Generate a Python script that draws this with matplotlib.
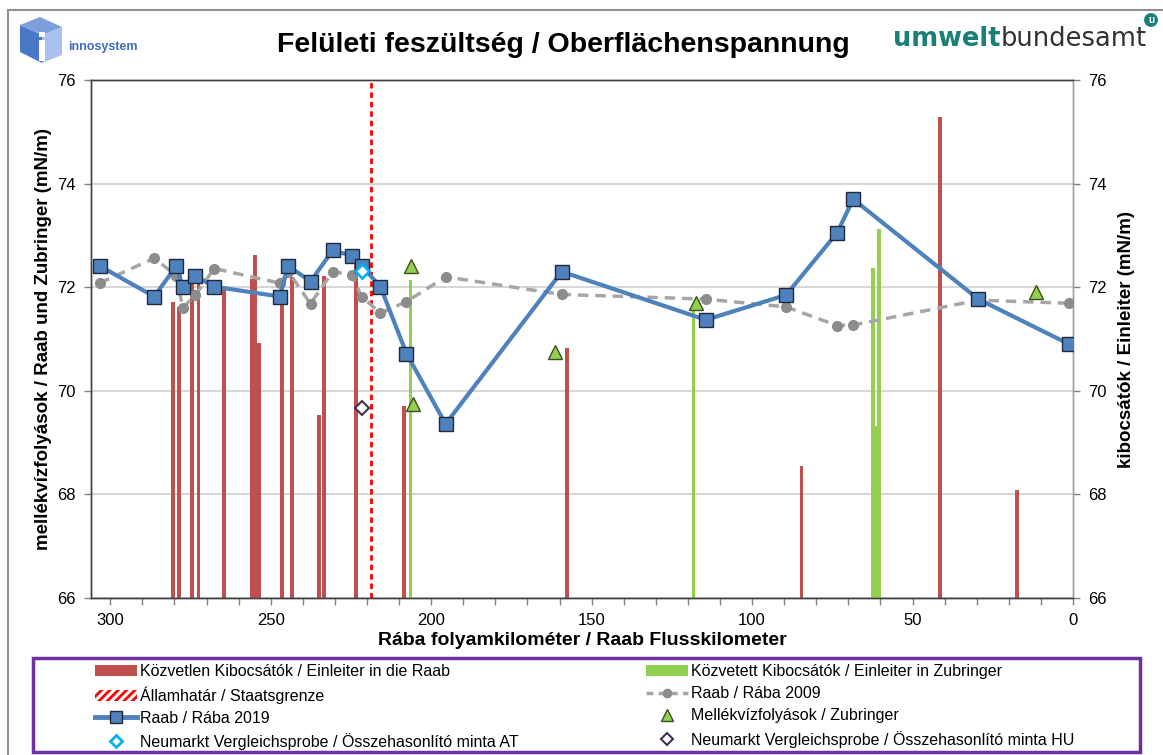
import matplotlib
matplotlib.use('Agg')
import matplotlib.pyplot as plt
from matplotlib.patches import Patch, Rectangle, Polygon
from matplotlib.lines import Line2D
from matplotlib.ticker import MultipleLocator

plt.rcParams['font.family'] = ['Liberation Sans', 'DejaVu Sans']
plt.rcParams['hatch.linewidth'] = 2.0

# --- data ---
site_km = [303.3, 286.3, 279.4, 277.4, 273.6, 267.6, 247.2, 244.5, 237.6, 230.7, 224.8,
           221.7, 215.8, 207.7, 195.5, 159.3, 114.4, 89.4, 73.5, 68.5, 29.5, 1.2]
raab_2019 = [72.41, 71.82, 72.41, 72.01, 72.22, 72.01, 71.82, 72.41, 72.11, 72.71, 72.61,
             72.41, 72.01, 70.72, 69.36, 72.30, 71.37, 71.85, 73.05, 73.70, 71.77, 70.90]
raab_2009 = [72.08, 72.56, 72.22, 71.60, 71.84, 72.36, 72.08, 72.30, 71.68, 72.30, 72.24,
             71.82, 71.50, 71.72, 72.20, 71.86, 71.77, 71.62, 71.26, 71.27, 71.75, 71.69]

direct_km = [280.5, 278.6, 274.6, 272.5, 264.5, 256.0, 255.0, 253.6, 246.6, 243.4, 234.9,
             233.5, 223.5, 208.5, 157.6, 84.6, 41.4, 17.4]
direct_val = [71.72, 71.62, 72.15, 72.15, 71.98, 72.15, 72.62, 70.92, 71.75, 72.20, 69.53,
              72.22, 72.50, 69.70, 70.83, 68.55, 75.28, 68.08]

indirect_km = [206.4, 118.3, 62.4, 61.5, 60.4]
indirect_val = [72.13, 71.54, 72.38, 69.32, 73.12]

trib_km = [206.4, 205.6, 161.4, 117.5, 11.4]
trib_val = [72.40, 69.75, 70.74, 71.70, 71.90]

at_km, at_val = [221.6], [72.31]
hu_km, hu_val = [221.6], [69.66]
border_km = 218.6

labels = ['Közvetlen Kibocsátók / Einleiter in die Raab',
          'Államhatár / Staatsgrenze',
          'Raab / Rába 2019',
          'Neumarkt Vergleichsprobe / Összehasonlító minta AT',
          'Közvetett Kibocsátók / Einleiter in Zubringer',
          'Raab / Rába 2009',
          'Mellékvízfolyások / Zubringer',
          'Neumarkt Vergleichsprobe / Összehasonlító minta HU']

RED = '#C0504D'
GREEN = '#92D050'
BLUE = '#4F81BD'
GREY = '#A6A6A6'
DOT = '#8C8C8C'

W, H = 1163, 755
fig = plt.figure(figsize=(W / 100, H / 100), dpi=100)

ax2 = fig.add_axes([91 / W, 1 - 598 / H, (1073 - 91) / W, (598 - 80) / H])
ax = ax2.twinx()
ax2.yaxis.tick_right()
ax2.yaxis.set_label_position('right')
ax.yaxis.tick_left()
ax.yaxis.set_label_position('left')

# bars on the discharge axis (right)
ax2.bar(direct_km, [v - 66 for v in direct_val], bottom=66, width=1.2, color=RED, zorder=2)
ax2.bar(indirect_km, [v - 66 for v in indirect_val], bottom=66, width=1.1, color=GREEN, zorder=2)
ax2.set_ylim(66, 76)
ax2.set_xlim(306, 0)
ax2.yaxis.set_major_locator(MultipleLocator(2))
ax2.grid(axis='y', color='#D0D0D0', lw=1.2, zorder=0)
ax2.set_axisbelow(True)

ax.set_zorder(ax2.get_zorder() + 1)
ax.patch.set_visible(False)

ax.axvline(border_km, color='#FF0000', lw=2, dashes=(2.0, 1.4), zorder=3)
ax.plot(site_km, raab_2009, color=GREY, lw=2.5, dashes=(3, 2), marker='o', ms=7,
        mfc=DOT, mec=DOT, zorder=4)
ax.plot(site_km, raab_2019, color=BLUE, lw=3, marker='s', ms=10, mfc=BLUE,
        mec='#1F2A3C', mew=1.0, zorder=5)
ax.plot(trib_km, trib_val, ls='none', marker='^', ms=10, mfc=GREEN, mec='#3D4F1E',
        mew=1.0, zorder=6)
ax.plot(at_km, at_val, ls='none', marker='D', ms=7, mfc='white', mec='#00B0F0',
        mew=2, zorder=7)
ax.plot(hu_km, hu_val, ls='none', marker='D', ms=7, mfc='white', mec='#403152',
        mew=1.5, zorder=7)
ax.set_ylim(66, 76)
ax.set_xlim(306, 0)
ax.yaxis.set_major_locator(MultipleLocator(2))
ax2.xaxis.set_major_locator(MultipleLocator(50))
ax2.xaxis.set_minor_locator(MultipleLocator(10))

for a in (ax, ax2):
    a.tick_params(which='both', direction='out', length=5, width=1, color='#808080',
                  labelsize=12, pad=6)
    for s in a.spines.values():
        s.set_color('#404040')
        s.set_linewidth(1)
    a.spines['right'].set_color('#A0A0A0')

ax.set_ylabel('mellékvízfolyások / Raab und Zubringer (mN/m)', fontsize=13.5,
              fontweight='bold', labelpad=4)
ax2.set_ylabel('kibocsátók / Einleiter (mN/m)', fontsize=13.5, fontweight='bold',
               labelpad=8)
ax2.set_xlabel('Rába folyamkilométer / Raab Flusskilometer', fontsize=14,
               fontweight='bold', labelpad=3)

fig.text(563 / W, 1 - 45 / H, 'Felületi feszültség / Oberflächenspannung', fontsize=20.5,
         fontweight='bold', ha='center', va='center')

# legend (two blocks of four rows inside a purple frame)
h_left = [Patch(fc=RED, ec='none'),
          Patch(fc='white', ec='#FF0000', hatch='////', lw=0),
          Line2D([], [], color=BLUE, lw=3.5, marker='s', ms=8, mfc=BLUE, mec='#1F2A3C'),
          Line2D([], [], ls='none', marker='D', ms=6, mfc='white', mec='#00B0F0', mew=2)]
h_right = [Patch(fc=GREEN, ec='none'),
           Line2D([], [], color=GREY, lw=2.5, dashes=(2, 1.5), marker='o', ms=6,
                  mfc=DOT, mec=DOT),
           Line2D([], [], ls='none', marker='^', ms=8, mfc=GREEN, mec='#3D4F1E'),
           Line2D([], [], ls='none', marker='D', ms=6, mfc='white', mec='#403152', mew=1.5)]
kw = dict(loc='upper left', frameon=False, fontsize=11.5, handlelength=2.6,
          handleheight=0.7, handletextpad=0.2, labelspacing=0.45, borderaxespad=0,
          borderpad=0)
fig.legend(h_left, labels[:4], bbox_to_anchor=(95 / W, 1 - 664 / H), **kw)
fig.legend(h_right, labels[4:], bbox_to_anchor=(646 / W, 1 - 664 / H), **kw)
fig.add_artist(Rectangle((33 / W, 1 - 752 / H), (1140 - 33) / W, (752 - 658) / H,
                         transform=fig.transFigure, fill=False, ec='#7030A0', lw=2.5))

# page frame
fig.add_artist(Line2D([8 / W, 8 / W], [0, 1 - 10 / H], transform=fig.transFigure,
                      color='#909090', lw=1.5))
fig.add_artist(Line2D([8 / W, 1], [1 - 10 / H, 1 - 10 / H], transform=fig.transFigure,
                      color='#909090', lw=1.5))

# innosystem logo
lg = fig.add_axes([15 / W, 1 - 66 / H, 50 / W, 52 / H])
lg.set_xlim(0, 50)
lg.set_ylim(0, 52)
lg.axis('off')
lg.add_patch(Polygon([(5, 41), (27, 31), (27, 3), (5, 14)], fc='#4A78C8', ec='none'))
lg.add_patch(Polygon([(27, 31), (47, 39), (47, 11), (27, 3)], fc='#A9C1EC', ec='none'))
lg.add_patch(Polygon([(5, 41), (25, 49), (47, 39), (27, 31)], fc='#7C9FDC', ec='none'))
lg.add_patch(Rectangle((24, 5), 6, 21, fc='white', ec='none'))
lg.add_patch(Rectangle((24, 29), 6, 5, fc='white', ec='none'))
fig.text(68 / W, 1 - 47 / H, 'innosystem', fontsize=9, fontweight='bold',
         color='#3D6CC0', ha='left', va='center')

# umweltbundesamt logo
t1 = fig.text(893 / W, 1 - 46 / H, 'umwelt', fontsize=18.5, fontweight='bold',
              color='#1A8077', ha='left', va='baseline', family='DejaVu Sans')
fig.canvas.draw()
bb = t1.get_window_extent()
fig.text(bb.x1 / W, 1 - 46 / H, 'bundesamt', fontsize=18.5, color='#333333',
         ha='left', va='baseline', family='DejaVu Sans')
fig.text(1151 / W, 1 - 20 / H, 'u', fontsize=7, fontweight='bold', color='white',
         ha='center', va='center',
         bbox=dict(boxstyle='circle,pad=0.2', fc='#1A8077', ec='none'))

fig.savefig('out.png', dpi=100)
